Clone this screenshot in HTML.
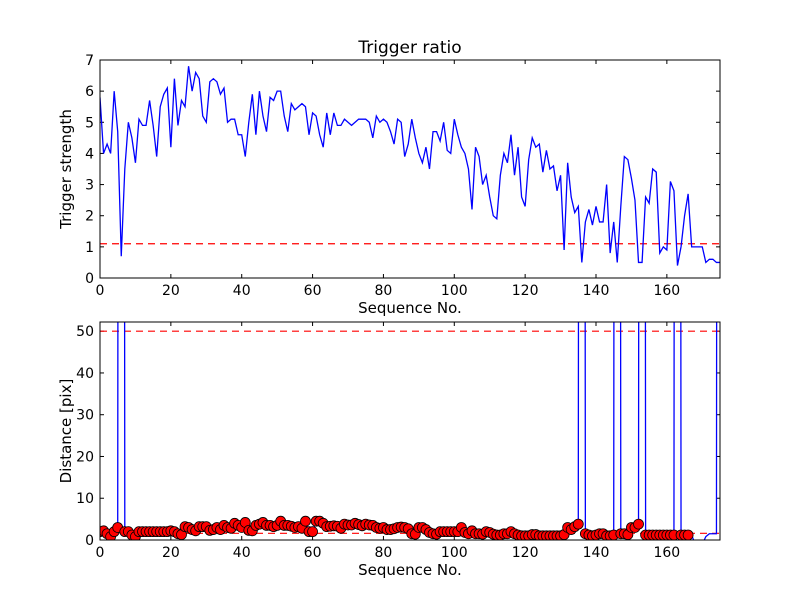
<!DOCTYPE html>
<html><head><meta charset="utf-8"><style>
body{margin:0;background:#fff}
svg{display:block;font-family:"DejaVu Sans","Liberation Sans",sans-serif}
</style></head><body>
<svg id="fig" width="800" height="600" viewBox="0 0 800 600" xmlns="http://www.w3.org/2000/svg">
<rect width="800" height="600" fill="#fff"/>
<defs>
<clipPath id="c1"><rect x="100" y="60" width="620" height="218"/></clipPath>
<clipPath id="c2"><rect x="100" y="322" width="620" height="218"/></clipPath>
</defs>
<text x="410" y="53" text-anchor="middle" font-size="17">Trigger ratio</text>
<g id="top"></g>
<g id="bot"></g>
</svg>
<script>
const strength = [5.8,4.0,4.3,4.0,6.0,4.7,0.7,3.5,5.0,4.5,3.7,5.1,4.9,4.9,5.7,4.9,3.9,5.5,5.9,6.1,4.2,6.4,4.9,5.7,5.5,6.8,6.0,6.6,6.4,5.2,5.0,6.3,6.4,6.3,5.9,6.1,5.0,5.1,5.1,4.6,4.6,3.9,5.0,5.9,4.6,6.0,5.2,4.7,5.8,5.7,6.0,6.0,5.2,4.7,5.6,5.4,5.5,5.6,5.5,4.6,5.3,5.2,4.6,4.2,5.3,4.6,5.3,4.9,4.9,5.1,5.0,4.9,5.0,5.1,5.1,5.1,5.0,4.5,5.2,5.0,5.1,5.0,4.7,4.3,5.1,5.0,3.9,4.3,5.1,4.5,4.0,3.7,4.2,3.5,4.7,4.7,4.4,5.0,4.1,4.0,5.1,4.6,4.2,4.0,3.5,2.2,4.2,3.9,3.0,3.3,2.6,2.0,1.9,3.3,4.0,3.7,4.6,3.3,4.2,2.6,2.3,3.8,4.5,4.2,4.3,3.4,4.1,3.5,3.6,2.8,3.3,0.9,3.7,2.6,2.1,2.3,0.5,1.8,2.2,1.7,2.3,1.8,1.8,3.0,0.8,1.8,0.5,2.3,3.9,3.8,3.2,2.5,0.5,0.5,2.6,2.4,3.5,3.4,0.8,1.0,0.9,3.1,2.8,0.4,1.0,2.0,2.7,1.0,1.0,1.0,1.0,0.5,0.6,0.6,0.5,0.5];
const distance = [2,2.2,1.5,0.8,2,3,1000,2,2,1.2,0.8,2,2,2,2,2,2,2,2,2,2.2,2,1.5,1.3,3.2,3,2.5,2.2,3.2,3.2,3.2,2.3,2.5,3,2.5,3.5,3,2.8,4,3.5,3,4.2,2.3,2.2,3.5,3.8,4.2,3.5,3.5,3.2,3.5,4.5,3.5,3.5,3.3,3,3.2,2.8,4.5,2,2,4.5,4.5,4,3.2,3.3,3.4,3.3,2.8,3.8,3.6,3.6,4,3.7,3.4,3.8,3.6,3.5,3,2.8,3,2.5,2.5,2.7,3,3.1,3,2.7,1.5,1.4,3,3,2.5,1.8,1.5,1.4,2,2,2,2,2,2,3,1.8,1.5,2.2,1.5,1.5,1.4,2,1.8,1.4,1.2,1.2,1.5,1.5,2,1.5,1.2,1,1,1,1.3,1.3,1,1,1,1,1,1,1,1.3,3,2.5,3.2,3.8,1000,1.5,1.2,1,1.2,1.5,1.5,1,1,1.2,1000,1.5,1.5,1.3,3,3,3.8,1000,1.2,1.2,1.2,1.2,1.2,1.2,1.2,1.2,1.2,1000,1.2,1.2,1.2,1.2,-1,-1,-1,0.8,1.5,1.5,1.5,1000,1000];
const noMarker = [167,168,169,170,171,172,173,174,175];
const topTicksY = [0,1,2,3,4,5,6,7];
const botTicksY = [0,10,20,30,40,50];
const ticksX = [0,20,40,60,80,100,120,140,160];
const topThreshold = 1.1;
const botUpper = 50, botLower = 1.6;

const NS = "http://www.w3.org/2000/svg";
function mk(tag, attrs, parent){const e=document.createElementNS(NS,tag);for(const k in attrs)e.setAttribute(k,attrs[k]);parent.appendChild(e);return e;}
const X0=100,X1=720;
const sx = v => X0 + (v/175)*(X1-X0);
function axes(g, y0, y1, ymax, yticks, ylabel, clip){
  const sy = v => y1 - (v/ymax)*(y1-y0);
  ticksX.forEach(t=>{
    const x=sx(t);
    const a=mk('line',{x1:x,x2:x,y1:y1,y2:y1-4,stroke:'#000'},g);
    
    
    mk('line',{x1:x,x2:x,y1:y0,y2:y0+4,stroke:'#000'},g);
    const tx=mk('text',{x:x,y:y1+17,'text-anchor':'middle','font-size':'14'},g);
    tx.textContent=t;
    
    
  });
  yticks.forEach(t=>{
    const y=sy(t);
    mk('line',{x1:X0,x2:X0+4,y1:y,y2:y,stroke:'#000'},g);
    mk('line',{x1:X1,x2:X1-4,y1:y,y2:y,stroke:'#000'},g);
    const tx=mk('text',{x:X0-6,y:y+5,'text-anchor':'end','font-size':'14'},g);
    tx.textContent=t;
    
    
  });
  const xl=mk('text',{x:410,y:y1+35,'text-anchor':'middle','font-size':'15'},g);
  xl.textContent='Sequence No.';
  
  
  const cy=(y0+y1)/2;
  const yl=mk('text',{x:0,y:0,'text-anchor':'middle','font-size':'15',transform:`translate(${X0-29},${cy}) rotate(-90)`},g);
  yl.textContent=ylabel;
  
  
  const p=mk('g',{'clip-path':`url(#${clip})`},g);
  return {sy,p};
}
const gt=document.getElementById('top');
const A=axes(gt,60,278,7,topTicksY,'Trigger strength','c1');
const th=mk('line',{x1:X0,x2:X1,y1:A.sy(topThreshold),y2:A.sy(topThreshold),stroke:'#f00','stroke-width':1.2,'stroke-dasharray':'7,5'},A.p);


const l1=mk('polyline',{points:strength.map((v,i)=>sx(i)+','+A.sy(v)).join(' '),fill:'none',stroke:'#00f','stroke-width':1.3},A.p);


mk('rect',{x:X0,y:60,width:620,height:218,fill:'none',stroke:'#000'},gt);
const gb=document.getElementById('bot');
const B=axes(gb,322,540,52.2,botTicksY,'Distance [pix]','c2');
[botUpper,botLower].forEach(v=>{
  const d=mk('line',{x1:X0,x2:X1,y1:B.sy(v),y2:B.sy(v),stroke:'#f00','stroke-width':1.2,'stroke-dasharray':'7,5'},B.p);
  
  
});
const l2=mk('polyline',{points:distance.map((v,i)=>sx(i)+','+B.sy(v)).join(' '),fill:'none',stroke:'#00f','stroke-width':1.3},B.p);


distance.forEach((v,i)=>{
  if(noMarker.includes(i)) return;
  const c=mk('circle',{cx:sx(i),cy:B.sy(v),r:5,fill:'#f00',stroke:'#000','stroke-width':0.8},B.p);
  
  
});
mk('rect',{x:X0,y:322,width:620,height:218,fill:'none',stroke:'#000'},gb);
</script>
</body></html>
